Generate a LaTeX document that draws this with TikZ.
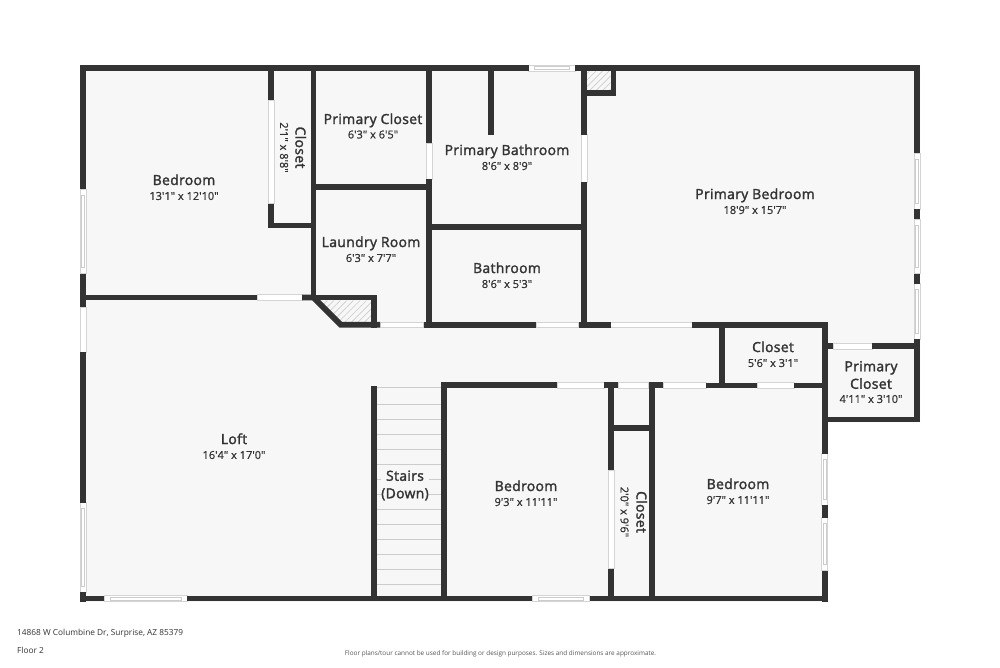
\documentclass[tikz,border=0pt]{standalone}
\usepackage{fontspec}
\usepackage{xcolor}
\usetikzlibrary{patterns.meta}
\newfontfamily\roomfont[FakeBold=2,LetterSpace=2.5]{Open Sans}
\newfontfamily\sizefont[FakeBold=0.8]{Open Sans}
\newfontfamily\footfont{Open Sans}
\definecolor{floorcol}{HTML}{F7F7F7}
\definecolor{wallcol}{HTML}{333333}
\definecolor{edgecol}{HTML}{D4D4D4}
\definecolor{stepcol}{HTML}{CCCCCC}
\definecolor{textcol}{HTML}{333333}
\definecolor{notecol}{HTML}{555555}
\tikzset{
  wall/.style={draw=wallcol, line width=5.8pt, line cap=butt, miter limit=10},
  gapbox/.style={fill=white, draw=edgecol, line width=0.6pt},
  winline/.style={draw=stepcol, line width=0.6pt},
  stairline/.style={draw=stepcol, line width=0.8pt},
  shaft/.style={pattern={Lines[angle=45,distance=4.6pt,line width=0.7pt]}, pattern color=stepcol},
  roomname/.style={text=textcol, font=\roomfont\fontsize{13.9}{17.5}\selectfont, inner sep=0pt, align=center, text height=12pt, text depth=2pt},
  roomsize/.style={text=textcol, font=\sizefont\fontsize{11}{13}\selectfont, inner sep=0pt},
  foot/.style={text=textcol, font=\footfont\fontsize{8.3}{10}\selectfont, inner sep=0pt, anchor=west},
  footnote/.style={text=notecol, font=\footfont\fontsize{6.4}{8}\selectfont, inner sep=0pt},
}
\begin{document}
\begin{tikzpicture}[x=1pt,y=-1pt]
  \useasboundingbox (0,0) rectangle (1000,667);
  \fill[white] (0,0) rectangle (1000,667);
  % floor
  \fill[floorcol] (80,65) -- (920,65) -- (920,422) -- (827.5,422) -- (827.5,602) -- (80,602) -- cycle;
  % shafts
  \path[shaft] (320,300.5) -- (371,300.5) -- (371,321.8) -- (341.7,321.8) -- cycle;
  \path[shaft] (587,71) rectangle (610.7,90);
  % stairs
  \foreach \k in {0,...,12}
    \draw[stairline] (377,{404.3+15*\k}) -- (441,{404.3+15*\k});
  \draw[stairline] (377,387) -- (441,387);
  % door openings
  \draw[gapbox] (257,294.6) rectangle (302,300.4);
  \draw[gapbox] (380,321.8) rectangle (423.5,327.6);
  \draw[gapbox] (536,321.8) rectangle (578.5,327.6);
  \draw[gapbox] (610.7,321.8) rectangle (692,327.6);
  \draw[gapbox] (557,382.4) rectangle (604,388.2);
  \draw[gapbox] (618,382.4) rectangle (648.5,388.2);
  \draw[gapbox] (663,382.4) rectangle (706,388.2);
  \draw[gapbox] (757,382.6) rectangle (794,388.4);
  \draw[gapbox] (833,343.1) rectangle (872,348.9);
  \draw[gapbox] (268.1,100) rectangle (273.9,203.5);
  \draw[gapbox] (426.1,143) rectangle (431.9,179);
  \draw[gapbox] (581.1,134.5) rectangle (586.9,182);
  \draw[gapbox] (608.4,470) rectangle (614.2,568.5);
  \draw[gapbox] (80,307) rectangle (85.8,352);
  % windows
  \foreach \xa/\xb/\yy in {528.5/575/68,104/187/598.5,532/589.5/598.5}{
    \draw[gapbox] (\xa,\yy-2.9) rectangle (\xb,\yy+2.9);
    \draw[winline] ({\xa+6},\yy-1.4) rectangle ({\xb-6},\yy+1.4);
  }
  \foreach \ya/\yb/\xx in {189/273.5/83,502.5/592/83,153/209/917,219/273.5/917,283.5/339/917,453.5/505/824.6,517.5/570.5/824.6}{
    \draw[gapbox] (\xx-2.9,\ya) rectangle (\xx+2.9,\yb);
    \draw[winline] (\xx-1.4,{\ya+6}) rectangle (\xx+1.4,{\yb-6});
  }
  % outer walls
  \draw[wall] (80,68) -- (528.5,68);
  \draw[wall] (575,68) -- (920,68);
  \draw[wall] (83,65) -- (83,189);
  \draw[wall] (83,273.5) -- (83,307);
  \draw[wall] (83,352) -- (83,502.5);
  \draw[wall] (83,592) -- (83,602);
  \draw[wall] (80,598.5) -- (104,598.5);
  \draw[wall] (187,598.5) -- (532,598.5);
  \draw[wall] (589.5,598.5) -- (827.5,598.5);
  \draw[wall] (917,65) -- (917,153);
  \draw[wall] (917,209) -- (917,219);
  \draw[wall] (917,273.5) -- (917,283.5);
  \draw[wall] (917,339) -- (917,422);
  \draw[wall] (824.6,321.8) -- (824.6,453.5);
  \draw[wall] (824.6,505) -- (824.6,517.5);
  \draw[wall] (824.6,570.5) -- (824.6,602);
  \draw[wall] (824.6,419.5) -- (920,419.5);
  % upper rooms
  \draw[wall] (271,68) -- (271,100);
  \draw[wall] (271,203.5) -- (271,225.5) -- (316,225.5);
  \draw[wall] (313.5,68) -- (313.5,297.5);
  \draw[wall] (313.5,187) -- (432,187);
  \draw[wall] (429,68) -- (429,143);
  \draw[wall] (429,179) -- (429,327.6);
  \draw[wall] (490.7,68) -- (490.7,135);
  \draw[wall] (429,227) -- (587,227);
  \draw[wall] (584,68) -- (584,134.5);
  \draw[wall] (584,182) -- (584,327.6);
  \draw[wall] (613.4,68) -- (613.4,93) -- (584,93);
  \draw[wall] (83,297.5) -- (257,297.5);
  \draw[wall] (302,297.5) -- (313.5,297.5) -- (340.6,324.7) -- (380,324.7);
  \draw[wall] (313.5,297.5) -- (374,297.5) -- (374,327.6);
  \draw[wall] (423.5,324.7) -- (536,324.7);
  \draw[wall] (578.5,324.7) -- (610.7,324.7);
  \draw[wall] (692,324.7) -- (827.5,324.7);
  \draw[wall] (824.6,346) -- (833,346);
  \draw[wall] (872,346) -- (917,346);
  % lower rooms
  \draw[wall] (722,324.7) -- (722,385.5);
  \draw[wall] (706,385.5) -- (757,385.5);
  \draw[wall] (794,385.5) -- (824.6,385.5);
  \draw[wall] (441,385.3) -- (557,385.3);
  \draw[wall] (604,385.3) -- (618,385.3);
  \draw[wall] (648.5,385.3) -- (663,385.3);
  \draw[wall] (374,386) -- (374,598.5);
  \draw[wall] (444,385.3) -- (444,598.5);
  \draw[wall] (611.3,385.3) -- (611.3,470);
  \draw[wall] (611.3,568.5) -- (611.3,598.5);
  \draw[wall] (652,385.3) -- (652,598.5);
  \draw[wall] (611.3,428) -- (652,428);
  % labels
  \node[roomname] (bedroomA) at (184,180) {Bedroom};
  \node[roomsize] (bedroomAsize) at (184,196) {13'1" x 12'10"};
  \node[roomname,rotate=-90] (closetA) at (300.5,147.5) {Closet};
  \node[roomsize,rotate=-90] (closetAsize) at (284,147.5) {2'1" x 8'8"};
  \node[roomname] (primcloset) at (373,119) {Primary Closet};
  \node[roomsize] (primclosetsize) at (373,134.5) {6'3" x 6'5"};
  \node[roomname] (laundry) at (371,242) {Laundry Room};
  \node[roomsize] (laundrysize) at (371,258) {6'3" x 7'7"};
  \node[roomname] (primbath) at (507,150) {Primary Bathroom};
  \node[roomsize] (primbathsize) at (507,166) {8'6" x 8'9"};
  \node[roomname] (bathroom) at (507,268) {Bathroom};
  \node[roomsize] (bathroomsize) at (507,284) {8'6" x 5'3"};
  \node[roomname] (primbed) at (755,194) {Primary Bedroom};
  \node[roomsize] (primbedsize) at (755,210) {18'9" x 15'7"};
  \node[roomname] (closetB) at (773,347) {Closet};
  \node[roomsize] (closetBsize) at (773,363) {5'6" x 3'1"};
  \node[roomname,text height=,text depth=] (primclosetB) at (871,375) {Primary\\Closet};
  \node[roomsize] (primclosetBsize) at (871,399) {4'11" x 3'10"};
  \node[roomname] (loft) at (234,439) {Loft};
  \node[roomsize] (loftsize) at (234,455) {16'4" x 17'0"};
  \node[roomname,text height=,text depth=,fill=floorcol] (stairs) at (405,485.5) {Stairs\\(Down)};
  \node[roomname] (bedroomB) at (526,486) {Bedroom};
  \node[roomsize] (bedroomBsize) at (526,502) {9'3" x 11'11"};
  \node[roomname,rotate=-90] (closetC) at (641.5,512) {Closet};
  \node[roomsize,rotate=-90] (closetCsize) at (624.5,512) {2'0" x 9'6"};
  \node[roomname] (bedroomC) at (738,484) {Bedroom};
  \node[roomsize] (bedroomCsize) at (738,500) {9'7" x 11'11"};
  \node[foot] (address) at (17,633) {14868 W Columbine Dr, Surprise, AZ 85379};
  \node[foot] (floorno) at (17,650) {Floor 2};
  \node[footnote] (disclaimer) at (500.5,654) {Floor plans/tour cannot be used for building or design purposes. Sizes and dimensions are approximate.};
\end{tikzpicture}
\end{document}
